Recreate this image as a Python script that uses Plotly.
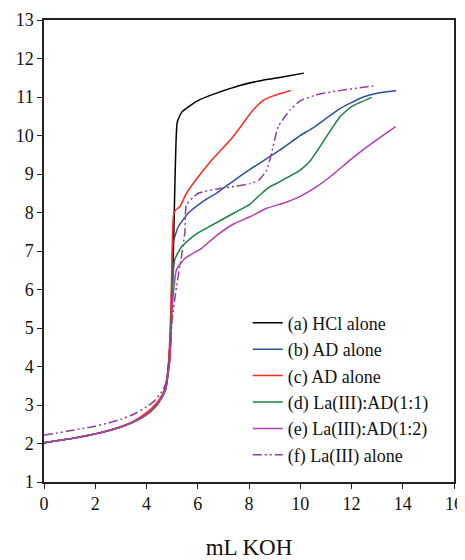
import plotly.graph_objects as go

# ---- data ----
low_x = [0, 0.5, 1, 1.5, 2, 2.5, 3, 3.5, 4, 4.3, 4.6, 4.75]
low_y = [2.02, 2.07, 2.12, 2.18, 2.25, 2.33, 2.43, 2.56, 2.75, 2.92, 3.2, 3.42]

a_x = low_x + [4.85, 4.95, 5.05, 5.1, 5.15, 5.2, 5.37, 5.69, 6.08, 6.73, 7.64, 8.5, 9.3, 10.14]
a_y = low_y + [4.0, 5.0, 7.0, 8.5, 9.8, 10.35, 10.6, 10.77, 10.93, 11.1, 11.3, 11.43, 11.52, 11.62]

b_x = low_x + [4.9, 4.97, 5.04, 5.24, 5.63, 6.28, 6.73, 7.45, 8.04, 9.2, 10.0, 10.5, 11.55, 12.46, 13.0, 13.74]
b_y = low_y + [4.2, 5.5, 7.2, 7.63, 7.98, 8.32, 8.5, 8.85, 9.12, 9.62, 10.0, 10.2, 10.7, 11.0, 11.1, 11.16]

c_x = [0, 0.5, 1, 1.5, 2, 2.5, 3, 3.5, 4, 4.3, 4.6, 4.72,
       4.85, 4.95, 5.0, 5.05, 5.13, 5.3, 5.56, 6.02, 6.54, 7.38, 8.16, 8.6, 8.95, 9.62]
c_y = [2.02, 2.07, 2.12, 2.18, 2.25, 2.33, 2.44, 2.58, 2.8, 2.98, 3.25, 3.45,
       4.0, 5.5, 7.0, 7.9, 8.06, 8.15, 8.5, 8.93, 9.36, 9.97, 10.66, 10.93, 11.03, 11.17]

d_x = low_x + [4.9, 4.98, 5.1, 5.37, 5.89, 6.5, 7.45, 8.04, 8.5, 8.82, 9.2, 10.0, 10.4, 10.77, 11.15, 11.55, 12.0, 12.79]
d_y = low_y + [4.2, 5.5, 6.77, 7.11, 7.42, 7.65, 8.0, 8.22, 8.5, 8.67, 8.8, 9.1, 9.35, 9.71, 10.1, 10.49, 10.75, 10.99]

e_x = low_x + [4.92, 5.0, 5.17, 5.5, 6.15, 6.73, 7.45, 8.04, 8.69, 9.34, 10.0, 10.64, 11.3, 11.94, 12.8, 13.72]
e_y = low_y + [4.2, 5.5, 6.51, 6.81, 7.07, 7.4, 7.72, 7.89, 8.11, 8.24, 8.42, 8.67, 9.0, 9.36, 9.8, 10.23]

f_x = [0, 0.5, 1, 1.5, 2, 2.5, 3, 3.5, 4, 4.3, 4.6, 4.75, 4.9, 5.0, 5.17, 5.35, 5.5, 5.56,
       6.02, 6.93, 7.45, 8.04, 8.4, 8.69, 8.88, 9.14, 9.6, 10.0, 10.6, 11.29, 12.2, 12.98]
f_y = [2.22, 2.27, 2.33, 2.39, 2.45, 2.53, 2.63, 2.76, 2.95, 3.1, 3.35, 3.55, 4.2, 5.2, 6.07, 6.8, 7.5, 8.2,
       8.5, 8.63, 8.68, 8.75, 8.85, 9.1, 9.54, 10.23, 10.66, 10.9, 11.05, 11.14, 11.23, 11.3]

names = ["(a) HCl alone", "(b) AD alone", "(c) AD alone",
         "(d) La(III):AD(1:1)", "(e) La(III):AD(1:2)", "(f) La(III) alone"]

x_ticks = [0, 2, 4, 6, 8, 10, 12, 14, 16]
y_ticks = list(range(1, 14))

series = [(a_x, a_y), (b_x, b_y), (c_x, c_y), (d_x, d_y), (e_x, e_y), (f_x, f_y)]
colors = ["#000000", "#2f4fa3", "#ff2a1f", "#17843f", "#b43cb4", "#8e3f9e"]
dashes = ["solid", "solid", "solid", "solid", "solid", "9px,3px,2px,3px,2px,3px"]

FONT = "Times New Roman, Liberation Serif, serif"

fig = go.Figure()
for (xs, ys), name, col, dash in zip(series, names, colors, dashes):
    fig.add_trace(go.Scatter(x=xs, y=ys, mode="lines", name=name,
                             line=dict(color=col, width=1.5, dash=dash, shape="spline", smoothing=0.5)))

axis_common = dict(showline=True, linecolor="#222", linewidth=1.5, mirror=True,
                   ticks="outside", ticklen=5, tickcolor="#222", tickwidth=1.2,
                   showgrid=False, zeroline=False, automargin=False,
                   tickfont=dict(family=FONT, size=18, color="#111"))

# page body adds an 8px margin, so the figure is 8px smaller and margins shifted
fig.update_layout(
    width=457, height=552,
    margin=dict(l=36, r=11, t=12, b=78),
    paper_bgcolor="white", plot_bgcolor="white",
    font=dict(family=FONT, size=18, color="#111"),
    showlegend=True,
    legend=dict(x=0.497, y=0.384, xanchor="left", yanchor="top",
                bgcolor="rgba(0,0,0,0)", font=dict(family=FONT, size=18, color="#111"),
                tracegroupgap=0),
    xaxis=dict(range=[0, 16], tickvals=x_ticks, ticktext=[str(v) for v in x_ticks],
               title=dict(text="mL KOH", font=dict(family=FONT, size=23), standoff=28),
               **axis_common),
    yaxis=dict(range=[1, 13], tickvals=y_ticks, ticktext=[str(v) for v in y_ticks], **axis_common),
)

fig.write_html("out.html")
